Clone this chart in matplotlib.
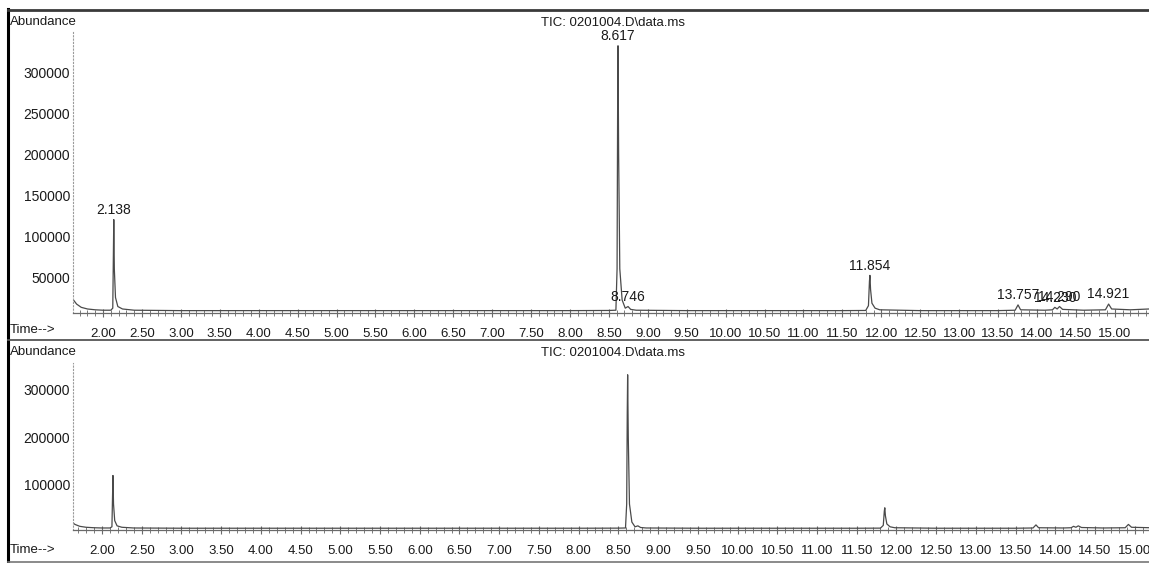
import matplotlib
matplotlib.use("Agg")
import matplotlib.pyplot as plt
from matplotlib.lines import Line2D
from matplotlib.ticker import MultipleLocator, FormatStrFormatter
from matplotlib import font_manager

# ---------------- data ----------------
title = "TIC: 0201004.D\\data.ms"

rt = [1.62, 1.66, 1.72, 1.80, 1.90, 2.00, 2.10, 2.125, 2.132, 2.138, 2.145, 2.16,
      2.19, 2.25, 2.40, 3.00, 4.00, 5.00, 6.00, 7.00, 8.00, 8.50, 8.59, 8.605,
      8.612, 8.617, 8.625, 8.64, 8.67, 8.71, 8.746, 8.78, 8.85, 9.50, 10.50, 11.50,
      11.80, 11.835, 11.848, 11.854, 11.862, 11.88, 11.92, 11.98, 12.50, 13.50, 13.72,
      13.757, 13.79, 14.10, 14.20, 14.230, 14.26, 14.290, 14.33, 14.60, 14.88, 14.921,
      14.96, 15.20, 15.44]
abundance = [22000, 17000, 13000, 11000, 10000, 9500, 9500, 12000, 70000, 120000, 60000, 25000,
             14000, 11000, 9500, 9000, 9000, 9000, 9000, 9000, 9000, 9200, 9500, 60000,
             250000, 332000, 200000, 60000, 22000, 12000, 14000, 10500, 9500, 9000, 9000, 9000,
             9200, 15000, 45000, 52000, 35000, 18000, 12000, 10000, 9000, 9000, 9500,
             16000, 10000, 9500, 10000, 13000, 11000, 14000, 10500, 9500, 10000, 17000,
             11000, 10000, 11000]

peak_rt = [2.138, 8.617, 8.746, 11.854, 13.757, 14.230, 14.290, 14.921]
peak_top = [120000, 332000, 14000, 52000, 16000, 13000, 14000, 17000]
peak_labels = ["2.138", "8.617", "8.746", "11.854", "13.757", "14.230", "14.290", "14.921"]

top_yticks = [50000, 100000, 150000, 200000, 250000, 300000]
bottom_yticks = [100000, 200000, 300000]

# ---------------- style ----------------
W, H = 1149, 563
names = {f.name for f in font_manager.fontManager.ttflist}
fam = ["Liberation Sans Narrow", "Liberation Sans", "DejaVu Sans"]
fam = [f for f in fam if f in names] + ["DejaVu Sans"]
plt.rcParams["font.family"] = fam

ink = "#1a1a1a"
line_col = "#4a4a4a"

fig = plt.figure(figsize=(W / 100, H / 100), dpi=100)
fig.patch.set_facecolor("white")


def px(x, y):
    return x / W, 1 - y / H


def make_axes(bottom_px, top_px, xlim, ylim, yticks, labels):
    left = 73 / W
    ax = fig.add_axes([left, 1 - bottom_px / H, 1.0 - left, (bottom_px - top_px) / H])
    ax.plot(rt, abundance, color=line_col, lw=0.9)
    ax.set_xlim(*xlim)
    ax.set_ylim(*ylim)
    for s in ("top", "right"):
        ax.spines[s].set_visible(False)
    ax.spines["left"].set_color("#9a9a9a")
    ax.spines["left"].set_linestyle((0, (1, 2)))
    ax.spines["left"].set_linewidth(0.8)
    ax.spines["bottom"].set_color("#6a6a6a")
    ax.spines["bottom"].set_linewidth(0.9)
    ax.xaxis.set_major_locator(MultipleLocator(0.5))
    ax.xaxis.set_minor_locator(MultipleLocator(0.1))
    ax.xaxis.set_major_formatter(FormatStrFormatter("%.2f"))
    ax.tick_params(axis="x", which="major", direction="inout", length=6, width=0.8,
                   color="#6a6a6a", labelsize=9.5, labelcolor=ink, pad=8)
    ax.tick_params(axis="x", which="minor", direction="inout", length=4, width=0.7,
                   color="#7a7a7a")
    ax.set_yticks(yticks)
    ax.set_yticklabels([str(v) for v in yticks])
    ax.tick_params(axis="y", length=0, labelsize=10, labelcolor=ink, pad=2)
    ax.set_facecolor("none")
    ax.patch.set_visible(False)
    if labels:
        for x, y, t in zip(peak_rt, peak_top, peak_labels):
            ax.annotate(t, (x, y), xytext=(0, 2), textcoords="offset points",
                        ha="center", va="bottom", fontsize=10, color=ink)
    return ax


# top panel
ax1 = make_axes(313, 32, (1.614, 15.44), (6100, 348800), top_yticks, True)
fig.text(*px(613, 23), title, ha="center", va="center", fontsize=9.5, color=ink)
fig.text(*px(10, 22), "Abundance", ha="left", va="center", fontsize=9.5, color=ink)
fig.text(*px(10, 330), "Time-->", ha="left", va="center", fontsize=9.5, color=ink)

# bottom panel
ax2 = make_axes(530, 363, (1.635, 15.18), (5260, 356800), bottom_yticks, False)
fig.text(*px(613, 353), title, ha="center", va="center", fontsize=9.5, color=ink)
fig.text(*px(10, 352), "Abundance", ha="left", va="center", fontsize=9.5, color=ink)
fig.text(*px(10, 550), "Time-->", ha="left", va="center", fontsize=9.5, color=ink)

# frame lines
fig.add_artist(Line2D([8 / W, 8 / W], [1 - 9 / H, 0], color="black", lw=2.2))
fig.add_artist(Line2D([8 / W, 1], [1 - 9.5 / H, 1 - 9.5 / H], color="#3a3a3a", lw=2.0))
fig.add_artist(Line2D([8 / W, 1], [1 - 340 / H, 1 - 340 / H], color="#555555", lw=1.3))
fig.add_artist(Line2D([8 / W, 1], [1 - 562 / H, 1 - 562 / H], color="#777777", lw=1.2))

fig.savefig("out.png", dpi=100, facecolor="white")
